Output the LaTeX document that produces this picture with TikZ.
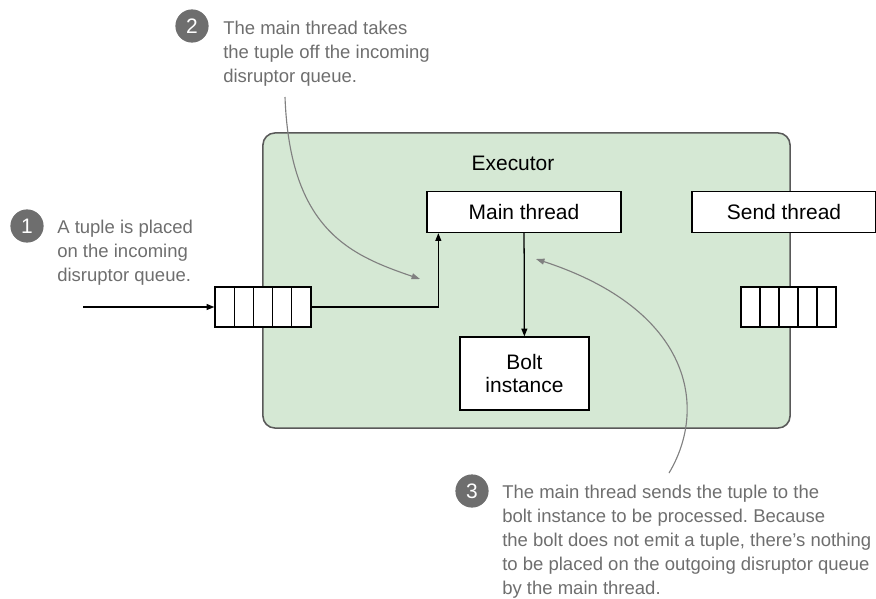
\documentclass[tikz,border=0pt]{standalone}
\usepackage{fontspec}
\setmainfont{Liberation Sans}
\frenchspacing
\usetikzlibrary{arrows.meta}
\definecolor{execgreen}{HTML}{D5E8D4}
\definecolor{notegray}{HTML}{6E6E6E}
\definecolor{curvegray}{HTML}{808080}
\begin{document}
\begin{tikzpicture}[x=0.025cm, y=-0.025cm,
  box/.style={draw=black, fill=white, line width=0.9pt, inner sep=0pt, font=\fontsize{14.9}{17}\selectfont},
  cell/.style={draw=black, fill=white, line width=0.9pt, minimum width=0.48cm, minimum height=1cm, inner sep=0pt},
  badge/.style={circle, fill=notegray, text=white, inner sep=0pt, minimum size=0.83cm, font=\fontsize{14.9}{17}\selectfont},
  note/.style={anchor=north west, inner sep=0pt, align=left, text=notegray, font=\fontsize{13.16}{17.07}\selectfont},
  flow/.style={line width=0.9pt, -{Triangle[length=5.5pt, width=4.2pt]}},
  pointer/.style={curvegray, line width=0.8pt, -{Triangle[length=6pt, width=4.2pt]}}]
\useasboundingbox (0,0) rectangle (876,599);

% executor
\node[draw=black!65, fill=execgreen, line width=1.1pt, rounded corners=0.3cm,
  minimum width=13.175cm, minimum height=7.375cm] (exec) at (526.5,280.5) {};
\node[font=\fontsize{14.9}{17}\selectfont] (execlabel) at (513,163) {Executor};

\node[box, minimum width=4.85cm, minimum height=1.025cm] (main) at (524,212) {Main thread};
\node[box, minimum width=4.6cm, minimum height=1.025cm] (send) at (784,212) {Send thread};
\node[box, align=center, minimum width=3.225cm, minimum height=1.825cm] (bolt) at (524.5,373.5) {Bolt\\instance};

% queues
\foreach \i in {1,...,5} {
  \node[cell] (inq-\i) at (215+9.6+19.2*\i-19.2,307) {};
  \node[cell] (outq-\i) at (741+9.5+19*\i-19,307) {};
}

\coordinate (src) at (83,307);
\draw[flow] (src) -- (inq-1.west);
\draw[flow] (inq-5.east) -| ([xshift=0.3cm]main.south west);
\draw[flow] (main) -- (bolt);

% notes
\node[badge] (b1) at (27,226) {1};
\node[note] (t1) at (57,219.5) {A tuple is placed\\on the incoming\\disruptor queue.};

\node[badge] (b2) at (192,26) {2};
\node[note] (t2) at (223,20.5) {The main thread takes\\the tuple off the incoming\\disruptor queue.};

\node[badge] (b3) at (472,491) {3};
\node[note] (t3) at (502,484.5) {The main thread sends the tuple to the\\bolt instance to be processed. Because\\the bolt does not emit a tuple, there’s nothing\\to be placed on the outgoing disruptor queue\\by the main thread.};

\coordinate (p2a) at (285,97);
\coordinate (p2b) at (420,279);
\draw[pointer] (p2a) .. controls (290,230) and (350,255) .. (p2b);

\coordinate (p3a) at (669,473);
\coordinate (p3b) at (536,259);
\draw[pointer] (p3a) .. controls (708,408) and (692,310) .. (p3b);
\end{tikzpicture}
\end{document}
